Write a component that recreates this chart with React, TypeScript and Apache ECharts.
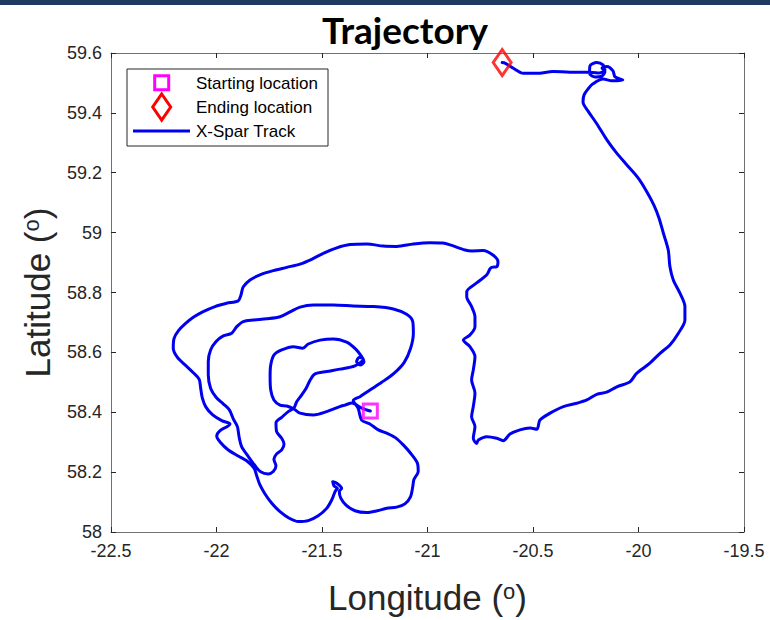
import React, { useEffect, useRef } from "react";
import * as echarts from "echarts";

// Drifter deployment and recovery positions [longitude, latitude]
const startLocation: [number, number] = [-21.271, 58.404];
const endLocation: [number, number] = [-20.646, 59.568];

// Axis extents and tick steps
const lonRange: [number, number] = [-22.5, -19.5];
const lonStep = 0.5;
const latRange: [number, number] = [58, 59.6];
const latStep = 0.2;

// Track legs in time order, [longitude, latitude]
// 1) eddy: inner spiral around the deployment site
const legEddy: [number, number][] = [
  [-21.271, 58.404], [-21.312, 58.414], [-21.358, 58.431], [-21.391, 58.424], [-21.415, 58.419],
  [-21.478, 58.402], [-21.541, 58.391], [-21.604, 58.397], [-21.633, 58.411], [-21.667, 58.421],
  [-21.699, 58.424], [-21.728, 58.441], [-21.743, 58.474], [-21.746, 58.519], [-21.743, 58.558],
  [-21.728, 58.591], [-21.691, 58.608], [-21.636, 58.619], [-21.591, 58.614], [-21.565, 58.628],
  [-21.509, 58.641], [-21.446, 58.645], [-21.383, 58.634], [-21.339, 58.610], [-21.312, 58.586],
  [-21.301, 58.569], [-21.317, 58.558], [-21.336, 58.569], [-21.323, 58.584], [-21.304, 58.577],
  [-21.344, 58.555], [-21.415, 58.544], [-21.478, 58.536], [-21.533, 58.528], [-21.554, 58.510],
  [-21.573, 58.483], [-21.596, 58.458], [-21.620, 58.435], [-21.633, 58.414], [-21.660, 58.402],
  [-21.691, 58.383], [-21.718, 58.365], [-21.715, 58.335], [-21.691, 58.313], [-21.680, 58.294],
  [-21.691, 58.274], [-21.715, 58.261], [-21.728, 58.243], [-21.718, 58.221], [-21.731, 58.202],
  [-21.755, 58.194], [-21.791, 58.201], [-21.818, 58.222], [-21.849, 58.252], [-21.881, 58.285],
  [-21.893, 58.318], [-21.901, 58.352], [-21.920, 58.377], [-21.939, 58.408], [-21.968, 58.428],
  [-22.002, 58.450], [-22.028, 58.480], [-22.039, 58.525], [-22.039, 58.569], [-22.028, 58.608],
  [-22.002, 58.636], [-21.968, 58.655], [-21.928, 58.664], [-21.904, 58.686], [-21.873, 58.703],
  [-21.826, 58.708], [-21.762, 58.712], [-21.699, 58.719], [-21.652, 58.735], [-21.604, 58.751],
  [-21.541, 58.758], [-21.446, 58.758], [-21.352, 58.755], [-21.257, 58.753], [-21.162, 58.745],
  [-21.099, 58.727], [-21.070, 58.703], [-21.067, 58.664], [-21.080, 58.614], [-21.111, 58.566],
  [-21.159, 58.530], [-21.217, 58.500], [-21.273, 58.474], [-21.320, 58.452], [-21.352, 58.439],
];

// 2) the two southern lobes
const legLobes: [number, number][] = [
  [-21.329, 58.414], [-21.312, 58.374], [-21.273, 58.361], [-21.233, 58.341], [-21.193, 58.330],
  [-21.154, 58.316], [-21.115, 58.291], [-21.080, 58.263], [-21.048, 58.230], [-21.044, 58.202],
  [-21.064, 58.176], [-21.070, 58.151], [-21.080, 58.118], [-21.107, 58.094], [-21.146, 58.083],
  [-21.193, 58.079], [-21.238, 58.071], [-21.288, 58.065], [-21.344, 58.071], [-21.386, 58.090],
  [-21.411, 58.113], [-21.418, 58.135], [-21.407, 58.146], [-21.430, 58.163], [-21.449, 58.168],
  [-21.443, 58.154], [-21.427, 58.146], [-21.438, 58.135], [-21.454, 58.107], [-21.478, 58.079],
  [-21.518, 58.054], [-21.565, 58.038], [-21.612, 58.035], [-21.655, 58.046], [-21.699, 58.068],
  [-21.738, 58.096], [-21.770, 58.127], [-21.794, 58.157], [-21.809, 58.187], [-21.822, 58.213],
];

// 3) wide outer loop to the west and north
const legOuter: [number, number][] = [
  [-21.857, 58.238], [-21.897, 58.254], [-21.944, 58.274], [-21.980, 58.298], [-21.999, 58.321],
  [-21.983, 58.339], [-21.949, 58.352], [-21.936, 58.361], [-21.975, 58.372], [-22.018, 58.391],
  [-22.050, 58.417], [-22.067, 58.447], [-22.075, 58.480], [-22.082, 58.510], [-22.110, 58.532],
  [-22.149, 58.558], [-22.186, 58.584], [-22.205, 58.614], [-22.201, 58.647], [-22.181, 58.672],
  [-22.149, 58.695], [-22.110, 58.717], [-22.063, 58.736], [-22.007, 58.753], [-21.952, 58.764],
  [-21.897, 58.772], [-21.884, 58.792], [-21.873, 58.819], [-21.841, 58.842], [-21.794, 58.859],
  [-21.731, 58.873], [-21.667, 58.884], [-21.604, 58.895], [-21.549, 58.911], [-21.494, 58.931],
  [-21.430, 58.949], [-21.367, 58.960], [-21.288, 58.962], [-21.209, 58.955], [-21.146, 58.954],
  [-21.067, 58.962], [-20.988, 58.966], [-20.927, 58.965], [-20.893, 58.959], [-20.822, 58.942],
  [-20.789, 58.939], [-20.737, 58.940], [-20.690, 58.925], [-20.666, 58.903], [-20.672, 58.886],
  [-20.696, 58.884], [-20.704, 58.879], [-20.719, 58.859],
];

// 4) southward meander, then east and north to recovery
const legReturn: [number, number][] = [
  [-20.767, 58.832], [-20.814, 58.803], [-20.814, 58.786], [-20.791, 58.753], [-20.775, 58.719],
  [-20.775, 58.686], [-20.799, 58.658], [-20.830, 58.641], [-20.799, 58.619], [-20.775, 58.586],
  [-20.783, 58.541], [-20.791, 58.508], [-20.775, 58.464], [-20.783, 58.419], [-20.791, 58.385],
  [-20.775, 58.352], [-20.783, 58.313], [-20.767, 58.296], [-20.759, 58.307], [-20.719, 58.318],
  [-20.672, 58.313], [-20.641, 58.305], [-20.609, 58.327], [-20.562, 58.341], [-20.514, 58.347],
  [-20.482, 58.343], [-20.467, 58.374], [-20.419, 58.397], [-20.356, 58.419], [-20.293, 58.430],
  [-20.245, 58.441], [-20.198, 58.460], [-20.151, 58.467], [-20.103, 58.485], [-20.040, 58.502],
  [-20.009, 58.530], [-19.946, 58.564], [-19.898, 58.597], [-19.851, 58.625], [-19.811, 58.664],
  [-19.780, 58.708], [-19.780, 58.753], [-19.803, 58.797], [-19.835, 58.842], [-19.851, 58.886],
  [-19.859, 58.942], [-19.882, 58.998], [-19.903, 59.049], [-19.927, 59.092], [-19.960, 59.136],
  [-20.002, 59.183], [-20.055, 59.226], [-20.107, 59.269], [-20.149, 59.309], [-20.197, 59.363],
  [-20.239, 59.406], [-20.263, 59.436], [-20.258, 59.460], [-20.239, 59.480], [-20.216, 59.497],
  [-20.168, 59.513], [-20.126, 59.507], [-20.074, 59.510], [-20.111, 59.520], [-20.121, 59.540],
  [-20.149, 59.555], [-20.173, 59.550], [-20.159, 59.537], [-20.174, 59.523], [-20.206, 59.520],
  [-20.232, 59.532], [-20.230, 59.557], [-20.198, 59.568], [-20.168, 59.560], [-20.159, 59.543],
  [-20.192, 59.533], [-20.245, 59.536], [-20.325, 59.536], [-20.404, 59.538], [-20.482, 59.532],
  [-20.546, 59.532], [-20.593, 59.549], [-20.633, 59.566], [-20.646, 59.568],
];

const TRACK_BLUE = "#0000f0";
const START_MAGENTA = "#ff00ff";
const END_RED = "#ff0000";
const AXIS_GRAY = "#707070";
const TEXT_DARK = "#262626";
const FONT = "Liberation Sans, Arial, Helvetica, sans-serif";

export default function App() {
  const ref = useRef<HTMLDivElement>(null);

  useEffect(() => {
    if (!ref.current) return;
    const chart = echarts.init(ref.current, undefined, { renderer: "svg" });

    const track = [...legEddy, ...legLobes, ...legOuter, ...legReturn];

    const axisCommon = {
      type: "value" as const,
      axisLine: { show: true, onZero: false, lineStyle: { color: AXIS_GRAY, width: 1 } },
      axisTick: { show: true, inside: true, length: 5, lineStyle: { color: TEXT_DARK, width: 1 } },
      splitLine: { show: false },
    };

    const nameRich = {
      a: { fontSize: 35, fontFamily: FONT, color: TEXT_DARK },
      s: { fontSize: 22, fontFamily: FONT, color: TEXT_DARK, verticalAlign: "top" as const },
    };

    chart.setOption({
      animation: false,
      backgroundColor: "#ffffff",
      title: {
        text: "Trajectory",
        left: 400,
        top: 6,
        textAlign: "center",
        textStyle: { fontFamily: "Lato", fontWeight: "bold", fontSize: 37, color: "#000000" },
      },
      grid: { left: 111, right: 26, top: 53, bottom: 88, containLabel: false },
      xAxis: [
        {
          ...axisCommon,
          position: "bottom",
          min: lonRange[0],
          max: lonRange[1],
          interval: lonStep,
          axisLabel: { color: TEXT_DARK, fontSize: 18, fontFamily: FONT, margin: 10 },
          name: "{a|Longitude (}{s|o}{a|)}",
          nameLocation: "middle",
          nameGap: 48,
          nameTextStyle: { rich: nameRich },
        },
        {
          ...axisCommon,
          position: "top",
          min: lonRange[0],
          max: lonRange[1],
          interval: lonStep,
          axisLabel: { show: false },
        },
      ],
      yAxis: [
        {
          ...axisCommon,
          position: "left",
          min: latRange[0],
          max: latRange[1],
          interval: latStep,
          axisLabel: { color: TEXT_DARK, fontSize: 18, fontFamily: FONT, margin: 9 },
          name: "{a|Latitude (}{s|o}{a|)}",
          nameLocation: "middle",
          nameRotate: 90,
          nameGap: 56,
          nameTextStyle: { rich: nameRich },
        },
        {
          ...axisCommon,
          position: "right",
          min: latRange[0],
          max: latRange[1],
          interval: latStep,
          axisLabel: { show: false },
        },
      ],
      series: [
        {
          name: "X-Spar Track",
          type: "line",
          xAxisIndex: 0,
          yAxisIndex: 0,
          data: track,
          symbol: "none",
          smooth: 0.3,
          lineStyle: { color: TRACK_BLUE, width: 3, cap: "round", join: "round" },
          z: 2,
        },
        {
          name: "Starting location",
          type: "scatter",
          xAxisIndex: 0,
          yAxisIndex: 0,
          data: [startLocation],
          symbol: "rect",
          symbolSize: 14,
          itemStyle: { color: "rgba(255,255,255,0)", borderColor: START_MAGENTA, borderWidth: 3 },
          z: 3,
        },
        {
          name: "Ending location",
          type: "scatter",
          xAxisIndex: 0,
          yAxisIndex: 0,
          data: [endLocation],
          symbol: "diamond",
          symbolSize: [18, 26],
          itemStyle: { color: "rgba(255,255,255,0)", borderColor: END_RED, borderWidth: 3 },
          z: 3,
        },
      ],
      graphic: [
        // slide header strip
        { type: "rect", shape: { x: 0, y: 0, width: 770, height: 5 }, style: { fill: "#1f3a5f" }, z: 10 },
        // legend box
        {
          type: "group",
          z: 10,
          children: [
            {
              type: "rect",
              shape: { x: 127, y: 69, width: 201, height: 77 },
              style: { fill: "#ffffff", stroke: TEXT_DARK, lineWidth: 1 },
            },
            {
              type: "rect",
              shape: { x: 154.7, y: 75.7, width: 14, height: 14 },
              style: { fill: "none", stroke: START_MAGENTA, lineWidth: 3 },
            },
            {
              type: "polygon",
              shape: { points: [[161.7, 94], [170.7, 107], [161.7, 120], [152.7, 107]] },
              style: { fill: "none", stroke: END_RED, lineWidth: 3 },
            },
            {
              type: "line",
              shape: { x1: 133, y1: 131, x2: 190, y2: 131 },
              style: { stroke: TRACK_BLUE, lineWidth: 3 },
            },
            {
              type: "text",
              x: 196,
              y: 83.5,
              style: { text: "Starting location", font: `17px ${FONT}`, fill: "#000000", verticalAlign: "middle" },
            },
            {
              type: "text",
              x: 196,
              y: 107.5,
              style: { text: "Ending location", font: `17px ${FONT}`, fill: "#000000", verticalAlign: "middle" },
            },
            {
              type: "text",
              x: 196,
              y: 131.5,
              style: { text: "X-Spar Track", font: `17px ${FONT}`, fill: "#000000", verticalAlign: "middle" },
            },
          ],
        },
      ],
    });

    return () => chart.dispose();
  }, []);

  return (
    <div
      ref={ref}
      style={{ position: "fixed", left: 0, top: 0, width: 770, height: 620, background: "#ffffff" }}
    />
  );
}
